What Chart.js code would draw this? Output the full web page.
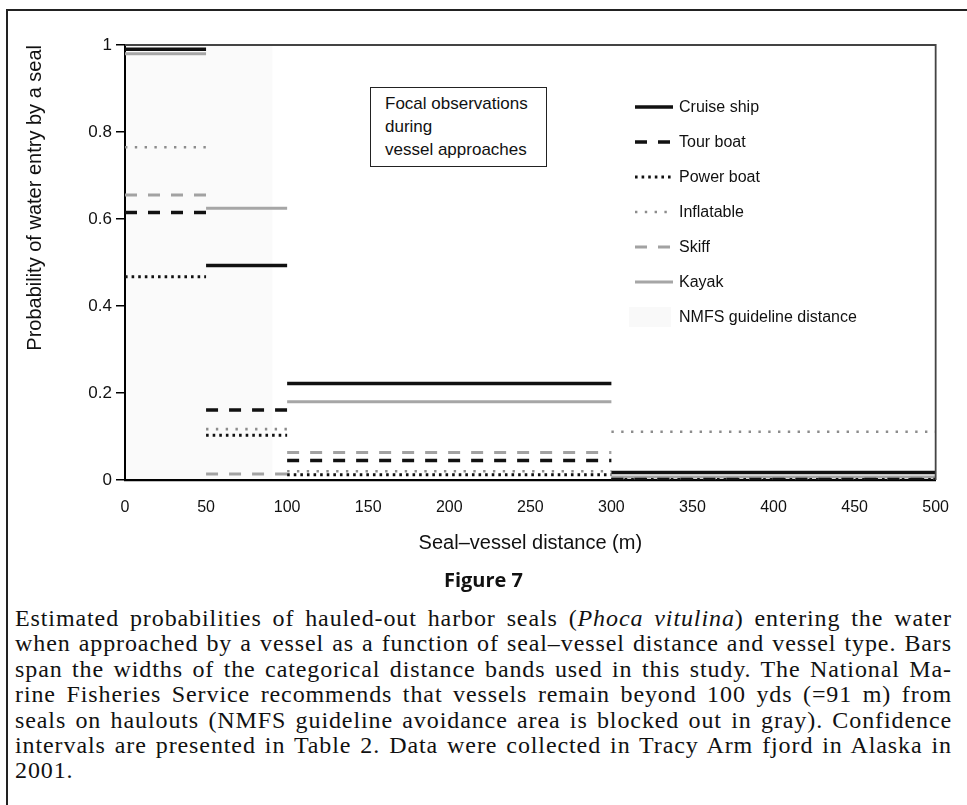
<!DOCTYPE html>
<html>
<head>
<meta charset="utf-8">
<script src="https://cdn.jsdelivr.net/npm/chart.js@4.4.1/dist/chart.umd.min.js"></script>
<style>
    html, body { margin: 0; padding: 0; background: #fff; }
    body { width: 967px; height: 805px; position: relative; overflow: hidden; font-family: "Liberation Sans", Arial, sans-serif; color: #111; }
    #moldura { position: absolute; left: 6px; top: 9px; width: 1000px; height: 900px; border: 2px solid #222; box-sizing: border-box; }
    #areaGrafico { position: absolute; left: 0; top: 0; width: 967px; height: 570px; }
    #caixaFocal { position: absolute; left: 370px; top: 87px; width: 177px; height: 80px; box-sizing: border-box; border: 1.5px solid #222; background: #fff; font-size: 17px; line-height: 23px; padding: 4px 0 0 14px; }
    #tituloFigura { position: absolute; left: 0; top: 566px; width: 967px; text-align: center; font-family: "Open Sans", sans-serif; font-weight: bold; font-size: 20px; }
    #legendaFigura { position: absolute; left: 15px; top: 606px; width: 937px; font-family: "Liberation Serif", serif; font-size: 24px; letter-spacing: 0.9px; line-height: 25.4px; }
    #legendaFigura div { text-align: justify; text-align-last: justify; }
    #legendaFigura div.ultima { text-align-last: left; }
</style>
</head>
<body>
<div id="moldura"></div>
<div id="areaGrafico"><canvas id="graficoFocal" width="967" height="570"></canvas></div>
<div id="caixaFocal">Focal observations<br>during<br>vessel approaches</div>
<div id="tituloFigura">Figure 7</div>
<div id="legendaFigura">
    <div>Estimated probabilities of hauled-out harbor seals (<i>Phoca vitulina</i>) entering the water</div>
    <div>when approached by a vessel as a function of seal–vessel distance and vessel type. Bars</div>
    <div>span the widths of the categorical distance bands used in this study. The National Ma-</div>
    <div>rine Fisheries Service recommends that vessels remain beyond 100 yds (=91 m) from</div>
    <div>seals on haulouts (NMFS guideline avoidance area is blocked out in gray). Confidence</div>
    <div>intervals are presented in Table 2. Data were collected in Tracy Arm fjord in Alaska in</div>
    <div class="ultima">2001.</div>
</div>
<script>
// faixas de distância (m)
const bandStart = [0, 50, 100, 300];
const bandEnd = [50, 100, 300, 500];

// probabilidade de entrada na água por tipo de embarcação
const cruiseShip = [0.99, 0.493, 0.222, 0.017];
const tourBoat = [0.615, 0.161, 0.045, 0.001];
const powerBoat = [0.467, 0.103, 0.012, 0.001];
const inflatable = [0.765, 0.117, 0.02, 0.111];
const skiff = [0.655, 0.014, 0.063, 0.003];
const kayak = [0.98, 0.625, 0.18, 0.007];

const nmfsLimit = 91;
const xTicks = [0, 50, 100, 150, 200, 250, 300, 350, 400, 450, 500];
const yTicks = [0, 0.2, 0.4, 0.6, 0.8, 1];

// cada faixa vira um segmento horizontal, separado do próximo por um ponto nulo
function segmentos(valores) {
    const pontos = [];
    valores.forEach((v, i) => {
        pontos.push({ x: bandStart[i], y: v });
        pontos.push({ x: bandEnd[i], y: v });
        pontos.push({ x: bandEnd[i], y: null });
    });
    return pontos;
}

function serie(label, valores, cor, largura, tracejado) {
    return {
        label: label,
        data: segmentos(valores),
        borderColor: cor,
        borderWidth: largura,
        borderDash: tracejado,
        borderCapStyle: 'butt',
        pointRadius: 0,
        fill: false,
        spanGaps: false,
        tension: 0
    };
}

const datasets = [
    serie('Cruise ship', cruiseShip, '#111', 3.5, []),
    serie('Tour boat', tourBoat, '#111', 3.5, [12, 11]),
    serie('Power boat', powerBoat, '#111', 3, [2.6, 4]),
    serie('Inflatable', inflatable, '#8c8c8c', 2.6, [2.4, 7.4]),
    serie('Skiff', skiff, '#a2a2a2', 3, [12, 11]),
    serie('Kayak', kayak, '#a6a6a6', 3, [])
];

// área de aproximação da NMFS em cinza bem claro
const faixaNmfs = {
    id: 'faixaNmfs',
    beforeDatasetsDraw(chart) {
        const { ctx, chartArea, scales } = chart;
        const x0 = scales.x.getPixelForValue(0);
        const x1 = scales.x.getPixelForValue(nmfsLimit);
        ctx.save();
        ctx.fillStyle = 'rgba(0, 0, 0, 0.018)';
        ctx.fillRect(x0, chartArea.top, x1 - x0, chartArea.bottom - chartArea.top);
        ctx.restore();
    }
};

// moldura superior e direita da área do gráfico
const moldura = {
    id: 'moldura',
    afterDatasetsDraw(chart) {
        const { ctx, chartArea } = chart;
        ctx.save();
        ctx.strokeStyle = '#444';
        ctx.lineWidth = 1.8;
        ctx.beginPath();
        ctx.moveTo(chartArea.left, chartArea.top);
        ctx.lineTo(chartArea.right, chartArea.top);
        ctx.lineTo(chartArea.right, chartArea.bottom);
        ctx.stroke();
        ctx.restore();
    }
};

// legenda desenhada à mão, dentro da área do gráfico
const legenda = {
    id: 'legenda',
    afterDraw(chart) {
        const { ctx, chartArea } = chart;
        const x = chartArea.left + 510;
        const comprimento = 38;
        let y = chartArea.top + 62;
        ctx.save();
        ctx.font = '16px "Liberation Sans", Arial, sans-serif';
        ctx.textBaseline = 'middle';
        ctx.fillStyle = '#111';
        chart.data.datasets.forEach(ds => {
            ctx.strokeStyle = ds.borderColor;
            ctx.lineWidth = ds.borderWidth;
            ctx.setLineDash(ds.borderDash);
            ctx.beginPath();
            ctx.moveTo(x, y);
            ctx.lineTo(x + comprimento, y);
            ctx.stroke();
            ctx.fillText(ds.label, x + comprimento + 6, y + 1);
            y += 35;
        });
        ctx.setLineDash([]);
        ctx.fillStyle = 'rgba(0, 0, 0, 0.025)';
        ctx.fillRect(x - 6, y - 10, comprimento + 4, 20);
        ctx.fillStyle = '#111';
        ctx.fillText('NMFS guideline distance', x + comprimento + 6, y + 1);
        ctx.restore();
    }
};

new Chart(document.getElementById('graficoFocal'), {
    type: 'line',
    data: { datasets: datasets },
    plugins: [faixaNmfs, moldura, legenda],
    options: {
        responsive: false,
        animation: false,
        layout: { padding: { left: 0, top: 45, right: 29, bottom: 10 } },
        plugins: {
            legend: { display: false },
            tooltip: { enabled: false }
        },
        scales: {
            x: {
                type: 'linear',
                min: 0,
                max: 500,
                afterBuildTicks: s => { s.ticks = xTicks.map(v => ({ value: v })); },
                afterFit: s => { s.height = 80; },
                grid: { display: false, drawTicks: false },
                border: { display: true, color: '#000', width: 2.2 },
                ticks: { color: '#111', padding: 18, font: { family: '"Liberation Sans", Arial', size: 16 } },
                title: {
                    display: true,
                    text: 'Seal–vessel distance (m)',
                    color: '#111',
                    font: { family: '"Liberation Sans", Arial', size: 20 },
                    padding: { top: 0, bottom: 5 }
                }
            },
            y: {
                min: 0,
                max: 1,
                afterBuildTicks: s => { s.ticks = yTicks.map(v => ({ value: v })); },
                afterFit: s => { s.width = 125; },
                grid: { display: true, drawOnChartArea: false, drawTicks: true, tickLength: 9, color: '#000', lineWidth: 1.5 },
                border: { display: true, color: '#000', width: 2 },
                ticks: {
                    color: '#111',
                    padding: 4,
                    font: { family: '"Liberation Sans", Arial', size: 17 },
                    callback: v => String(Math.round(v * 10) / 10)
                },
                title: {
                    display: true,
                    text: 'Probability of water entry by a seal',
                    align: 'end',
                    color: '#111',
                    font: { family: '"Liberation Sans", Arial', size: 20 },
                    padding: { top: 23, bottom: 0 }
                }
            }
        }
    }
});
</script>
</body>
</html>
